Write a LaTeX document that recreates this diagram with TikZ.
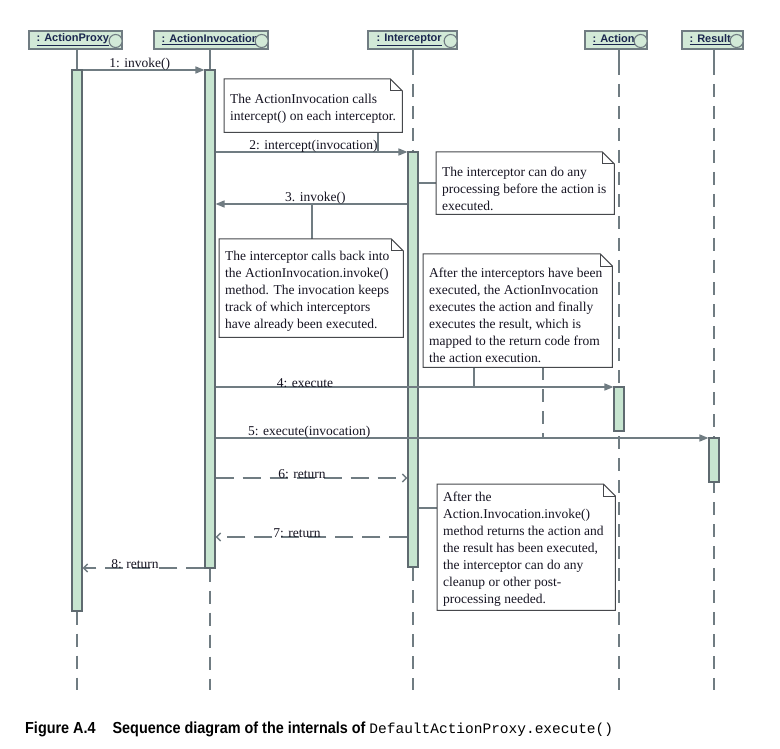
\documentclass[tikz,border=0pt]{standalone}
\usepackage{fontspec}
\setmainfont{Liberation Serif}
\setsansfont{Liberation Sans}
\setmonofont{Liberation Mono}
\newfontfamily\capfont[FakeStretch=0.9]{Liberation Sans}
\usetikzlibrary{arrows.meta}

\definecolor{linegray}{RGB}{112,124,130}
\definecolor{bargray}{RGB}{95,106,112}
\definecolor{barfill}{RGB}{199,229,208}
\definecolor{headfill}{RGB}{210,233,215}
\definecolor{headtext}{RGB}{26,38,78}
\definecolor{noteedge}{RGB}{70,72,76}
\definecolor{notetext}{RGB}{22,20,34}

\pgfdeclarelayer{paper}
\pgfdeclarelayer{lines}
\pgfsetlayers{paper,lines,main}

% folded-corner outline of a note frame node
\newcommand\noteframe[1]{%
  \draw[noteline] (#1.north west) -- ([xshift=-12pt]#1.north east)
    -- ([yshift=-12pt]#1.north east) -- (#1.south east) -- (#1.south west) -- cycle;
  \draw[noteline] ([xshift=-12pt]#1.north east) |- ([yshift=-12pt]#1.north east);}

\begin{document}
\begin{tikzpicture}[x=1pt,y=-1pt,
  header/.style={draw=linegray, line width=1.3pt, fill=headfill,
    minimum height=18pt, inner sep=0pt},
  htext/.style={anchor=west, inner sep=0pt, text=headtext,
    font=\sffamily\bfseries\fontsize{11}{13}\selectfont},
  hcircle/.style={draw=linegray, line width=1.1pt, fill=headfill},
  lifesolid/.style={draw=linegray, line width=1.7pt},
  lifeline/.style={draw=linegray, line width=1.7pt, dash pattern=on 13pt off 9pt},
  bar/.style={draw=bargray, line width=1.1pt, fill=barfill, minimum width=10pt,
    inner sep=0pt},
  msg/.style={draw=linegray, line width=1.5pt, -{Triangle[length=9pt,width=7pt]}},
  ret/.style={draw=linegray, line width=1.5pt, dash pattern=on 18pt off 9pt,
    -{Straight Barb[length=4pt,width=8pt]}},
  lbl/.style={above, inner sep=0pt, yshift=-1pt, text=notetext,
    font=\fontsize{13.5}{16}\selectfont},
  noteline/.style={draw=noteedge, line width=1pt},
  notebox/.style={fill=white, anchor=north west, inner sep=0pt},
  ntext/.style={anchor=west, align=left, inner sep=0pt, text=notetext,
    font=\fontsize{13.5}{17}\selectfont},
  link/.style={draw=linegray, line width=1.5pt},
  dlink/.style={draw=linegray, line width=1.7pt, dash pattern=on 13pt off 9pt},
]
\begin{pgfonlayer}{paper}
  \fill[white] (0,0) rectangle (780,749);
\end{pgfonlayer}
\useasboundingbox (0,0) rectangle (780,749);

% ---- lifeline heads ----
\node[header, minimum width=93pt]  (hP) at (75.5,40) {};
\node[header, minimum width=114pt] (hI) at (211,40) {};
\node[header, minimum width=89pt]  (hN) at (412.5,40) {};
\node[header, minimum width=62pt]  (hA) at (616,40) {};
\node[header, minimum width=61pt]  (hR) at (712.5,40) {};
\begin{scope}\clip (hP.south west) rectangle (hP.north east);
  \node[htext] (hPt) at ([xshift=8pt]hP.west) {\underline{: ActionProxy}};\end{scope}
\begin{scope}\clip (hI.south west) rectangle (hI.north east);
  \node[htext] (hIt) at ([xshift=8pt]hI.west) {\underline{: ActionInvocation}};\end{scope}
\begin{scope}\clip (hN.south west) rectangle (hN.north east);
  \node[htext] (hNt) at ([xshift=9pt]hN.west) {\underline{: Interceptor}};\end{scope}
\begin{scope}\clip (hA.south west) rectangle (hA.north east);
  \node[htext] (hAt) at ([xshift=8pt]hA.west) {\underline{: Action}};\end{scope}
\begin{scope}\clip (hR.south west) rectangle (hR.north east);
  \node[htext] (hRt) at ([xshift=8pt]hR.west) {\underline{: Result}};\end{scope}
\foreach \h in {hP,hI,hN,hA,hR}
  \draw[hcircle] ([xshift=-7pt,yshift=-1pt]\h.east) circle (6.5pt);

% ---- activation bars ----
\node[bar, minimum height=541pt] (bP) at (77,340.5) {};
\node[bar, minimum height=498pt] (bI) at (210,319) {};
\node[bar, minimum height=415pt] (bN) at (413,359.5) {};
\node[bar, minimum height=44pt]  (bA) at (619,409) {};
\node[bar, minimum height=44pt]  (bR) at (714,460) {};

% lifeline ends and upper break points
\coordinate (eP) at (77,690);
\coordinate (eI) at (210,690);
\coordinate (eN) at (413,690);
\coordinate (eA) at (619,690);
\coordinate (eR) at (714,690);
\coordinate (kN) at (413,62);
\coordinate (kA) at (619,62);
\coordinate (kR) at (714,62);

% lifelines run behind the bars
\begin{pgfonlayer}{lines}
\draw[lifesolid] (bP.north |- hP.south) -- (bP.north);
\draw[lifesolid] (bI.north |- hI.south) -- (bI.north);
\draw[lifesolid] (kN |- hN.south) -- (kN);
\draw[lifesolid] (kA |- hA.south) -- (kA);
\draw[lifesolid] (kR |- hR.south) -- (kR);
\draw[lifeline] (bP.south) -- (eP);
\draw[lifeline] (bI.south) -- (eI);
\draw[lifeline] (kN) -- (eN);
\draw[lifeline] (kA) -- (eA);
\draw[lifeline] (kR) -- (eR);
\end{pgfonlayer}

% ---- notes ----
\coordinate (c1) at (378,152);
\coordinate (c3) at (312,204);
\coordinate (c4a) at (474,387);
\coordinate (c4b) at (543,438);
\coordinate (c5) at (418,508);

\node[notebox, minimum width=178pt, minimum height=53pt]  (n1) at (224,79) {};
\node[notebox, minimum width=178pt, minimum height=62pt]  (n2) at (436,152) {};
\node[notebox, minimum width=184pt, minimum height=98pt]  (n3) at (219,239) {};
\node[notebox, minimum width=189pt, minimum height=113pt] (n4) at (423,254) {};
\node[notebox, minimum width=178pt, minimum height=126pt] (n5) at (437,484) {};

\draw[link] (n1.south -| c1) -- (c1);
\draw[link] (bN.east |- n2.west) -- (n2.west);
\draw[link] (c3) -- (n3.north -| c3);
\draw[link] (n4.south -| c4a) -- (c4a);
\draw[dlink] (n4.south -| c4b) -- (c4b);
\draw[link] (bN.east |- c5) -- (n5.west |- c5);

\foreach \n in {n1,n2,n3,n4,n5} \noteframe{\n};

\node[ntext] (t1) at ([xshift=6pt,yshift=-3pt]n1.west)
  {The ActionInvocation calls\\intercept() on each interceptor.};
\node[ntext] (t2) at ([xshift=6pt,yshift=-6pt]n2.west)
  {The interceptor can do any\\processing before the action is\\executed.};
\node[ntext] (t3) at ([xshift=6pt,yshift=-3pt]n3.west)
  {The interceptor calls back into\\the ActionInvocation.invoke()\\method. The invocation keeps\\track of which interceptors\\have already been executed.};
\node[ntext] (t4) at ([xshift=6pt,yshift=-5pt]n4.west)
  {After the interceptors have been\\executed, the ActionInvocation\\executes the action and finally\\executes the result, which is\\mapped to the return code from\\the action execution.};
\node[ntext] (t5) at ([xshift=6pt,yshift=-2pt]n5.west)
  {After the\\Action.Invocation.invoke()\\method returns the action and\\the result has been executed,\\the interceptor can do any\\cleanup or other post-\\processing needed.};

% ---- messages ----
\coordinate (m1) at (0,70);
\coordinate (m2) at (0,152);
\coordinate (m3) at (0,204);
\coordinate (m4) at (0,387);
\coordinate (m5) at (0,438);
\coordinate (m6) at (0,478);
\coordinate (m7) at (0,537);
\coordinate (m8) at (0,568);

\draw[msg] (bP.east |- m1) -- (bI.west |- m1) node[lbl, pos=0.47] (l1) {1: invoke()};
\draw[msg] (bI.east |- m2) -- (bN.west |- m2) node[lbl, pos=0.51] (l2) {2: intercept(invocation)};
\draw[msg] (bN.west |- m3) -- (bI.east |- m3) node[lbl, pos=0.48] (l3) {3. invoke()};
\draw[msg] (bI.east |- m4) -- (bA.west |- m4) node[lbl, pos=0.225] (l4) {4: execute};
\draw[msg] (bI.east |- m5) -- (bR.west |- m5) node[lbl, pos=0.19] (l5) {5: execute(invocation)};
\draw[ret] (bI.east |- m6) -- (bN.west |- m6) node[lbl, pos=0.45] (l6) {6: return};
\draw[ret] (bN.west |- m7) -- (bI.east |- m7) node[lbl, pos=0.575] (l7) {7: return};
\draw[ret] (bI.west |- m8) -- (bP.east |- m8) node[lbl, pos=0.57] (l8) {8: return};

% ---- caption ----
\node[anchor=base west, inner sep=0pt] (cap) at (25,733)
  {\capfont\bfseries\fontsize{16}{18}\selectfont Figure A.4\hspace{17pt}Sequence diagram of the internals of
   {\ttfamily\mdseries\fontsize{14.5}{18}\selectfont DefaultActionProxy.execute()}};
\end{tikzpicture}
\end{document}
